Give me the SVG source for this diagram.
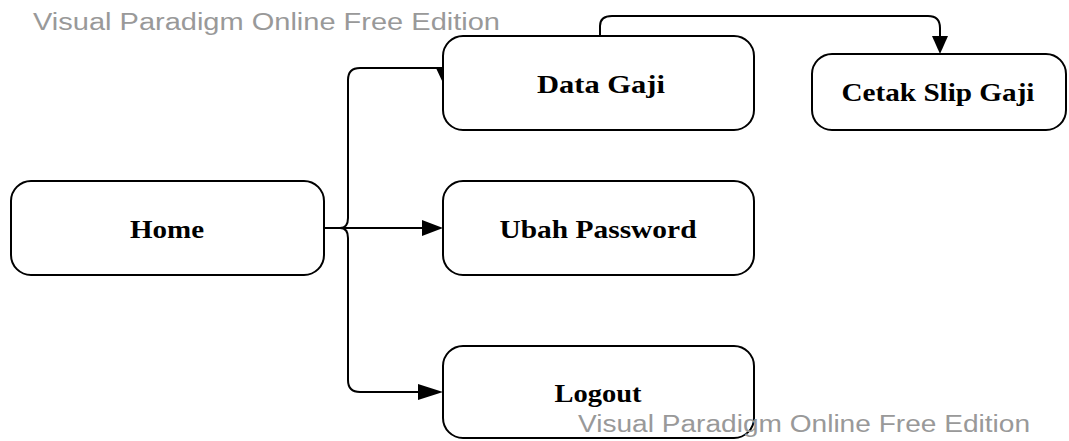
<svg xmlns="http://www.w3.org/2000/svg" width="1069" height="441" viewBox="0 0 1069 441">
<style>
.box{fill:#fff;stroke:#000;stroke-width:2}
.lbl{font-family:"Liberation Serif",serif;font-weight:bold;font-size:26px;text-anchor:middle;fill:#000}
.wm{font-family:"Liberation Sans",Arial,sans-serif;font-size:23px;fill:#999}
.con{fill:none;stroke:#000;stroke-width:2}
</style>
<text class="wm" x="33" y="30" textLength="467" lengthAdjust="spacingAndGlyphs">Visual Paradigm Online Free Edition</text>
<g id="connectors">
<path class="con" d="M324,228 H340"/>
<path class="con" d="M340,228 Q348,228 348,218 V80 Q348,68 360,68 H443"/>
<path d="M436,68 L450,68 L443,83 Z" fill="#000"/>
<path class="con" d="M340,228 H424"/>
<path d="M422,220 L443,228 L422,236 Z" fill="#000"/>
<path class="con" d="M340,228 Q348,228 348,238 V380 Q348,392 360,392 H424"/>
<path d="M418,384 L443,392 L418,400 Z" fill="#000"/>
<path class="con" d="M600,36 V26 Q600,16 612,16 H928 Q940,16 940,28 V38"/>
<path d="M932,36 L948,36 L940,54 Z" fill="#000"/>
</g>
<g id="home"><rect class="box" x="11" y="181" width="313" height="94" rx="20"/><text class="lbl" x="167" y="238" textLength="74" lengthAdjust="spacingAndGlyphs">Home</text></g>
<g id="data-gaji"><rect class="box" x="443" y="36" width="311" height="94" rx="20"/><text class="lbl" x="601" y="93" textLength="128" lengthAdjust="spacingAndGlyphs">Data Gaji</text></g>
<g id="cetak-slip-gaji"><rect class="box" x="812" y="54" width="254" height="76" rx="20"/><text class="lbl" x="938" y="101" textLength="193" lengthAdjust="spacingAndGlyphs">Cetak Slip Gaji</text></g>
<g id="ubah-password"><rect class="box" x="443" y="181" width="311" height="94" rx="20"/><text class="lbl" x="598" y="238" textLength="197" lengthAdjust="spacingAndGlyphs">Ubah Password</text></g>
<g id="logout"><rect class="box" x="443" y="346" width="311" height="92" rx="20"/><text class="lbl" x="598" y="402" textLength="87" lengthAdjust="spacingAndGlyphs">Logout</text></g>
<text class="wm" x="578" y="432" textLength="452" lengthAdjust="spacingAndGlyphs">Visual Paradigm Online Free Edition</text>
</svg>
